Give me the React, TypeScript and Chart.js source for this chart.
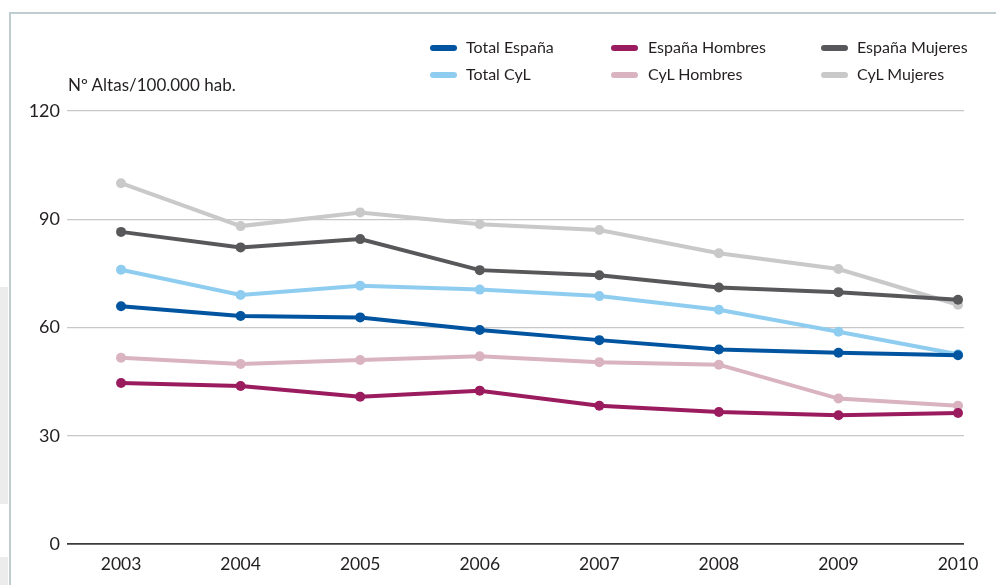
import React, { useEffect, useRef } from "react";
import { Chart, registerables } from "chart.js";

Chart.register(...registerables);

const years = [2003, 2004, 2005, 2006, 2007, 2008, 2009, 2010];
const totalEspana = [65.9, 63.2, 62.8, 59.3, 56.5, 53.9, 53.0, 52.3];
const espanaHombres = [44.6, 43.8, 40.8, 42.5, 38.3, 36.6, 35.7, 36.3];
const espanaMujeres = [86.5, 82.2, 84.5, 75.9, 74.5, 71.1, 69.8, 67.7];
const totalCyL = [76.0, 69.0, 71.6, 70.5, 68.7, 64.9, 58.8, 52.6];
const cylHombres = [51.6, 49.9, 51.0, 52.0, 50.4, 49.7, 40.3, 38.3];
const cylMujeres = [100.0, 88.1, 91.9, 88.6, 87.0, 80.6, 76.2, 66.3];
const yTicks = [0, 30, 60, 90, 120];

const seriesNames = [
  "Total España",
  "España Hombres",
  "España Mujeres",
  "Total CyL",
  "CyL Hombres",
  "CyL Mujeres",
];
const seriesValues = [totalEspana, espanaHombres, espanaMujeres, totalCyL, cylHombres, cylMujeres];
const seriesColors = ["#0054a0", "#9b1b5f", "#58585a", "#8fcdf0", "#d9b3bf", "#c9c9c9"];

const FONT = "Lato, 'Noto Sans', sans-serif";
const TEXT = "#231f20";

export default function App() {
  const ref = useRef<HTMLCanvasElement | null>(null);

  useEffect(() => {
    document.body.style.margin = "0";
    const canvas = ref.current;
    if (!canvas) return;
    const chart = new Chart(canvas, {
      type: "line",
      data: {
        datasets: seriesNames.map((name, i) => ({
          label: name,
          data: years.map((y, j) => ({ x: y, y: seriesValues[i][j] })),
          borderColor: seriesColors[i],
          backgroundColor: seriesColors[i],
          pointBackgroundColor: seriesColors[i],
          pointBorderWidth: 0,
          pointRadius: 5,
          borderWidth: 4,
          tension: 0,
          clip: false as any,
        })),
      },
      options: {
        animation: false,
        responsive: false,
        maintainAspectRatio: false,
        layout: { padding: { left: 10, right: 32, top: 111, bottom: 0 } },
        plugins: {
          legend: { display: false },
          title: { display: false },
          tooltip: { enabled: false },
        },
        scales: {
          x: {
            type: "linear",
            min: 2002.548,
            max: 2010.05,
            afterBuildTicks: (axis: any) => {
              axis.ticks = years.map((v) => ({ value: v }));
            },
            afterFit: (s: any) => {
              s.height = 41;
            },
            grid: { display: false, drawTicks: false },
            border: { display: false },
            ticks: {
              padding: 10,
              color: TEXT,
              font: { family: FONT, size: 17.5 },
              callback: (v: any) => String(v),
              maxRotation: 0,
              autoSkip: false,
            },
          },
          y: {
            min: 0,
            max: 120,
            afterBuildTicks: (axis: any) => {
              axis.ticks = yTicks.map((v) => ({ value: v }));
            },
            afterFit: (s: any) => {
              s.width = 57;
            },
            grid: {
              drawTicks: false,
              color: (ctx: any) => (ctx.tick && ctx.tick.value === 0 ? "#3c3c3c" : "#c8c8c8"),
              lineWidth: (ctx: any) => (ctx.tick && ctx.tick.value === 0 ? 1.8 : 1.2),
            },
            border: { display: false },
            ticks: {
              padding: 7,
              color: TEXT,
              font: { family: FONT, size: 18 },
            },
          },
        },
      },
    });
    return () => chart.destroy();
  }, []);

  const legendCols = [
    { swatch: 430, text: 466 },
    { swatch: 611, text: 648 },
    { swatch: 821, text: 857 },
  ];
  const legendRows = [48, 75];

  return (
    <div style={{ position: "relative", width: 996, height: 585, overflow: "hidden", background: "#fff", fontFamily: FONT }}>
      <div style={{ position: "absolute", left: 0, top: 287, width: 8, height: 217, background: "#ececed" }} />
      <div style={{ position: "absolute", left: 0, top: 557, width: 8, height: 28, background: "#ececed" }} />
      <div
        style={{
          position: "absolute",
          left: 9,
          top: 12,
          right: -10,
          bottom: -10,
          borderTop: "2px solid #bfccd0",
          borderLeft: "2px solid #bfccd0",
        }}
      />
      <canvas ref={ref} width={996} height={585} style={{ position: "absolute", left: 0, top: 0, width: 996, height: 585 }} />
      <div
        style={{
          position: "absolute",
          left: 68,
          top: 74,
          fontSize: 17,
          color: TEXT,
          lineHeight: "22px",
          whiteSpace: "nowrap",
        }}
      >
        Nº Altas/100.000 hab.
      </div>
      {seriesNames.map((name, i) => {
        const col = legendCols[i % 3];
        const row = legendRows[Math.floor(i / 3)];
        return (
          <React.Fragment key={name}>
            <div
              style={{
                position: "absolute",
                left: col.swatch,
                top: row - 3,
                width: 27,
                height: 6,
                borderRadius: 3,
                background: seriesColors[i],
              }}
            />
            <div
              style={{
                position: "absolute",
                left: col.text,
                top: row - 11,
                fontSize: 16,
                lineHeight: "20px",
                color: TEXT,
                whiteSpace: "nowrap",
              }}
            >
              {name}
            </div>
          </React.Fragment>
        );
      })}
    </div>
  );
}
